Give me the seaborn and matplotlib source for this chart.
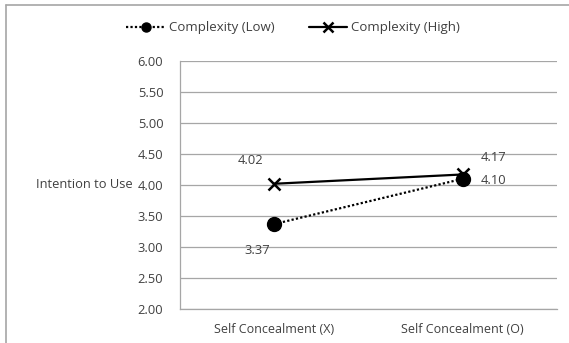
import matplotlib
matplotlib.use('Agg')
import matplotlib.pyplot as plt
from matplotlib.lines import Line2D
import seaborn as sns
import pandas as pd

# datos
categorias = ['Self Concealment (X)', 'Self Concealment (O)']
bajo = [3.37, 4.10]
alto = [4.02, 4.17]
series = ['Complexity (Low)', 'Complexity (High)']

df = pd.DataFrame({
    'cat': categorias * 2,
    'valor': bajo + alto,
    'serie': [series[0]] * 2 + [series[1]] * 2,
})

sns.set_theme(style='white')
plt.rcParams['font.family'] = ['Open Sans', 'DejaVu Sans']
gris = '#404040'
fs = 9.5

fig = plt.figure(figsize=(5.69, 3.43), dpi=100)
ax = fig.add_axes([180 / 569, 1 - 309 / 343, 377 / 569, 248 / 343])

sns.lineplot(data=df, x='cat', y='valor', style='serie', ax=ax,
             markers={series[0]: 'o', series[1]: 'X'},
             dashes={series[0]: (1, 1), series[1]: ''},
             color='black', linewidth=1.6, legend=False, sort=False)

# ajustar marcadores
for ln, mk, ms in zip(ax.get_lines(), ['o', 'x'], [10, 9]):
    ln.set_marker(mk)
    ln.set_markersize(ms)
    ln.set_markerfacecolor('black')
    ln.set_markeredgecolor('black')
    ln.set_markeredgewidth(1.8 if mk == 'x' else 1)

ax.set_xlim(-0.5, 1.5)
ax.set_ylim(2, 6)
ax.set_yticks([2 + 0.5 * i for i in range(9)])
ax.set_yticklabels(['%.2f' % (2 + 0.5 * i) for i in range(9)])
ax.yaxis.grid(True, color='#a6a6a6', linewidth=0.9)
ax.set_xlabel('')
ax.set_ylabel('Intention to Use', rotation=0, fontsize=fs - 0.2, color=gris,
              va='center', ha='right')
ax.yaxis.set_label_coords(-0.125, 0.5)
ax.tick_params(axis='y', labelsize=fs - 0.2, colors=gris, length=0, pad=12)
ax.tick_params(axis='x', labelsize=fs - 0.5, colors=gris, length=0, pad=10)
for s in ['top', 'right']:
    ax.spines[s].set_visible(False)
for s in ['left', 'bottom']:
    ax.spines[s].set_color('#a6a6a6')
    ax.spines[s].set_linewidth(0.9)

# etiquetas de datos
offs_bajo = [(-12, -19), (22, -1)]
offs_alto = [(-17, 17), (22, 12)]
for i in range(2):
    ax.annotate('%.2f' % bajo[i], (i, bajo[i]), xytext=offs_bajo[i],
                textcoords='offset points', ha='center', va='center',
                fontsize=fs - 0.2, color=gris)
    ax.annotate('%.2f' % alto[i], (i, alto[i]), xytext=offs_alto[i],
                textcoords='offset points', ha='center', va='center',
                fontsize=fs - 0.2, color=gris)

# leyenda
handles = [
    Line2D([], [], color='black', linestyle=(0, (1, 1)), linewidth=1.6,
           marker='o', markersize=6.5),
    Line2D([], [], color='black', linestyle='-', linewidth=1.6,
           marker='x', markersize=6.5, markeredgewidth=1.8),
]
fig.legend(handles, series, loc='center', bbox_to_anchor=(0.515, 1 - 28 / 343),
           ncol=2, frameon=False, fontsize=fs, handlelength=2.9,
           handletextpad=0.3, columnspacing=2.6, labelcolor=gris)

# borde del gráfico
fig.add_artist(Line2D([6 / 569, 6 / 569], [0, 1 - 5 / 343],
                      color='#a6a6a6', linewidth=1.2))
fig.add_artist(Line2D([6 / 569, 1], [1 - 5 / 343, 1 - 5 / 343],
                      color='#a6a6a6', linewidth=1.2))

fig.savefig('out.png', dpi=100)
